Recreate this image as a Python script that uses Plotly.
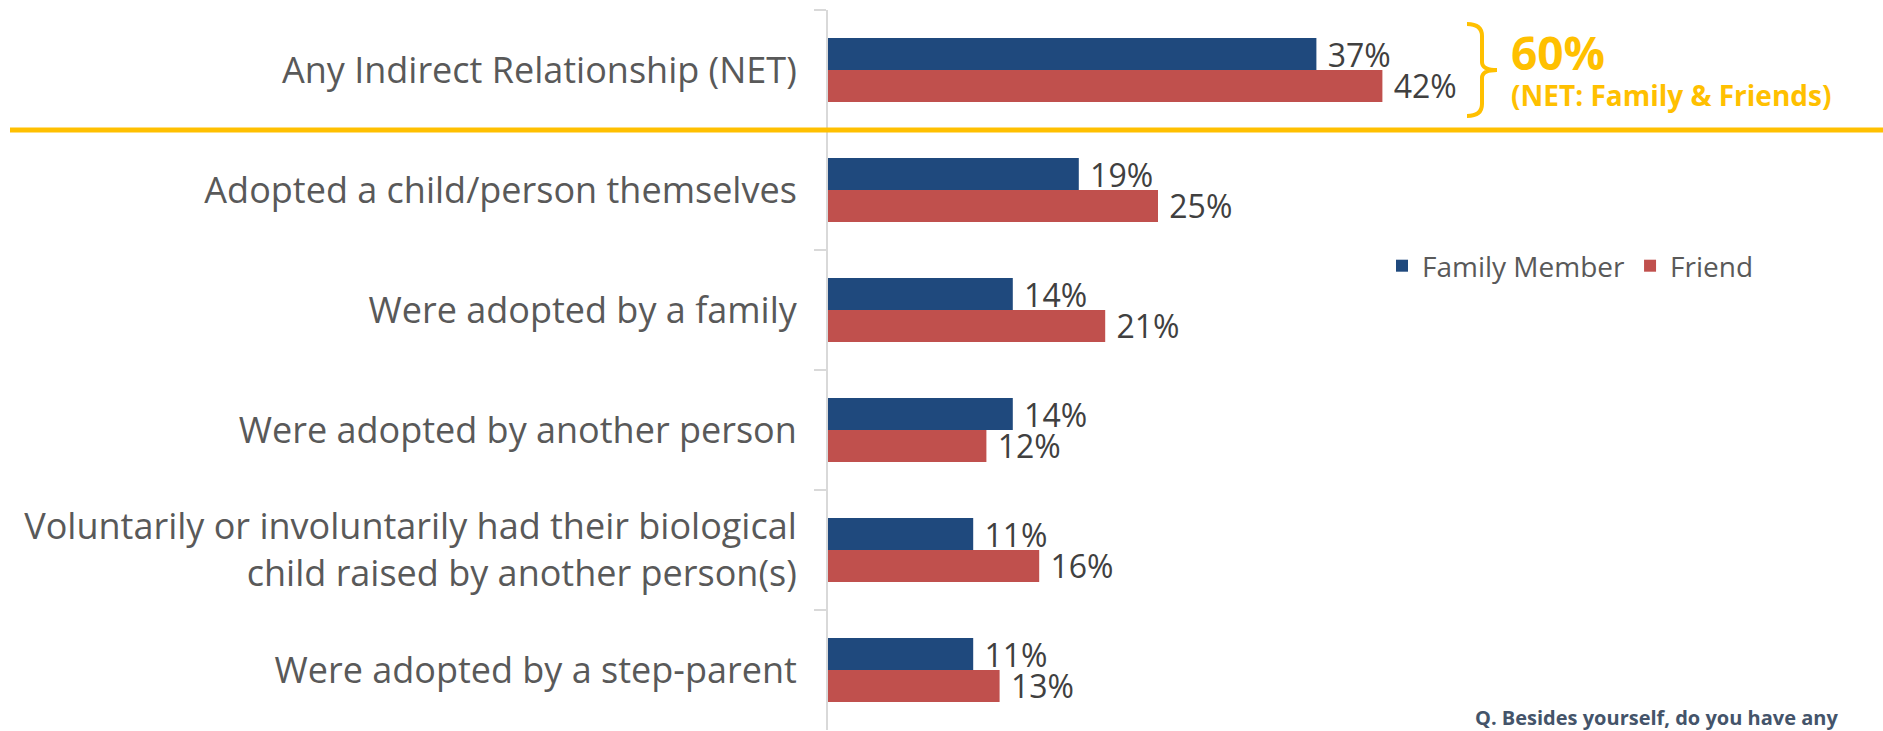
import plotly.graph_objects as go

categories = [
    "Any Indirect Relationship (NET)",
    "Adopted a child/person themselves",
    "Were adopted by a family",
    "Were adopted by another person",
    "Voluntarily or involuntarily had their biological<br>child raised by another person(s)",
    "Were adopted by a step-parent",
]
family_member = [37, 19, 14, 14, 11, 11]
friend = [42, 25, 21, 12, 16, 13]
series_names = ["Family Member", "Friend"]
net_total = "60%"
net_label = "(NET: Family & Friends)"
footnote = "Q. Besides yourself, do you have any"

W, H = 1883, 731
ML, MR, MT, MB = 828, 3, 10, 1
PW, PH = W - ML - MR, H - MT - MB

def px(x):
    return (x - ML) / PW

def py(y):
    return 1 - (y - MT) / PH

FONT = "'Open Sans', Roboto, sans-serif"
BLUE = "#1F497D"
RED = "#C0504D"
GOLD = "#FFC000"
NBSP = "\u00a0"

fig = go.Figure()
for name, vals, col in [(series_names[0], family_member, BLUE), (series_names[1], friend, RED)]:
    fig.add_trace(go.Bar(
        y=categories, x=vals, name=name, orientation="h",
        marker=dict(color=col, line=dict(width=0)),
        text=[f"{NBSP}{v}%" for v in vals], textposition="outside",
        textfont=dict(family=FONT, size=32, color="#404040"),
        constraintext="none", cliponaxis=False, hoverinfo="skip",
    ))

fig.update_layout(
    width=W, height=H,
    margin=dict(l=ML, r=MR, t=MT, b=MB, autoexpand=False),
    paper_bgcolor="white", plot_bgcolor="white",
    barmode="group", bargap=0.467, bargroupgap=0,
    font=dict(family=FONT, color="#595959"),
    showlegend=True,
    legend=dict(
        orientation="h", x=px(1382), xanchor="left", y=py(266), yanchor="middle",
        font=dict(family=FONT, size=28, color="#595959"),
        bgcolor="rgba(0,0,0,0)", itemclick=False, itemdoubleclick=False,
    ),
    xaxis=dict(range=[0, PW / 13.2], visible=False, showgrid=False, zeroline=False),
    yaxis=dict(
        autorange="reversed", type="category", automargin=False,
        showline=True, linecolor="#D9D9D9", linewidth=2,
        ticks="outside", tickson="boundaries", ticklen=12, tickcolor="#D9D9D9", tickwidth=2,
        tickfont=dict(family=FONT, size=36, color="#595959"),
        ticklabelstandoff=22, showgrid=False, zeroline=False,
    ),
)

# gold separator line
fig.add_shape(type="line", xref="paper", yref="paper",
              x0=px(10), x1=px(1883), y0=py(130), y1=py(130),
              line=dict(color=GOLD, width=5))

# bracket
def P(x, y):
    return f"{px(x):.5f},{py(y):.5f}"

path = (f"M{P(1467,24)} Q{P(1482,24)} {P(1482,36)} L{P(1482,62)} "
        f"Q{P(1482,70)} {P(1497,70)} Q{P(1482,70)} {P(1482,78)} "
        f"L{P(1482,104)} Q{P(1482,116)} {P(1467,116)}")
fig.add_shape(type="path", xref="paper", yref="paper", path=path,
              line=dict(color=GOLD, width=4))

fig.add_annotation(xref="paper", yref="paper", x=px(1509), y=py(52),
                   xanchor="left", yanchor="middle", showarrow=False,
                   text=f"<b>{net_total}</b>",
                   font=dict(family=FONT, size=46, color=GOLD))
fig.add_annotation(xref="paper", yref="paper", x=px(1509), y=py(95),
                   xanchor="left", yanchor="middle", showarrow=False,
                   text=f"<b>{net_label}</b>",
                   font=dict(family=FONT, size=28, color=GOLD))
fig.add_annotation(xref="paper", yref="paper", x=px(1840), y=py(717),
                   xanchor="right", yanchor="middle", showarrow=False,
                   text=f"<b>{footnote}</b>",
                   font=dict(family=FONT, size=20, color="#44546A"))

fig.write_html("out.html", config={"displayModeBar": False},
               post_script="document.body.style.margin='0';document.body.style.overflow='hidden';")
